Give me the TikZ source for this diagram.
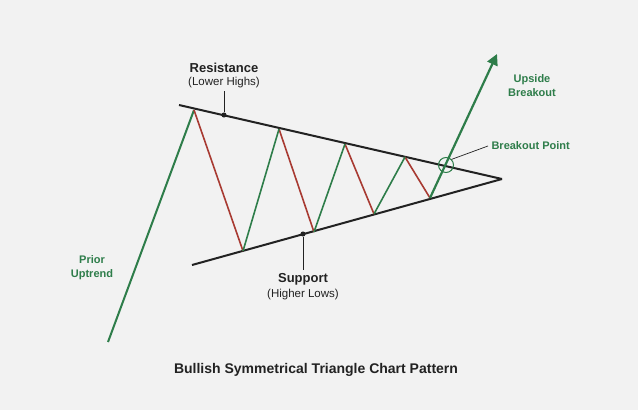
\documentclass[tikz,border=0pt]{standalone}
\usepackage{fontspec}
\setmainfont{Liberation Sans}
\usetikzlibrary{arrows.meta,positioning}
\definecolor{upgreen}{HTML}{2E7D4A}
\definecolor{downred}{HTML}{A83A32}
\definecolor{bgray}{HTML}{F2F2F2}
\definecolor{ink}{HTML}{222222}
\tikzset{
  trend/.style={line width=2pt,ink},
  up/.style={line width=1.6pt,upgreen},
  down/.style={line width=1.6pt,downred},
  lbl/.style={font=\bfseries\fontsize{13}{15}\selectfont,ink},
  sub/.style={font=\fontsize{11.5}{13}\selectfont,ink},
  glbl/.style={font=\bfseries\fontsize{11}{14}\selectfont,upgreen,align=center},
  dot/.style={circle,fill=ink,inner sep=1.8pt},
}
\begin{document}
\begin{tikzpicture}[x=1pt,y=-1pt]
  \fill[bgray] (0,0) rectangle (638,410);
  \useasboundingbox (0,0) rectangle (638,410);

  % pattern points
  \coordinate (s) at (108,342);
  \coordinate (p1) at (194,110);
  \coordinate (l1) at (243,251);
  \coordinate (p2) at (279,129);
  \coordinate (l2) at (314,232);
  \coordinate (p3) at (345,144);
  \coordinate (l3) at (374,214);
  \coordinate (p4) at (405,157);
  \coordinate (l4) at (430,198);
  \coordinate (bp) at (446,165);
  \coordinate (top) at (497,54);
  \coordinate (rA) at (179,105);
  \coordinate (sA) at (192,265);
  \coordinate (apex) at (502,179);

  % trend lines
  \draw[trend] (rA) -- (apex);
  \draw[trend] (sA) -- (apex);

  % zigzag
  \draw[up,line width=2pt] (s) -- (p1);
  \foreach \a/\b in {p1/l1,p2/l2,p3/l3,p4/l4} \draw[down] (\a) -- (\b);
  \foreach \a/\b in {l1/p2,l2/p3,l3/p4} \draw[up] (\a) -- (\b);
  \draw[up,line width=2.2pt,-{Triangle[length=11pt,width=11pt]}] (l4) -- (top);

  % resistance / support markers
  \node[dot] (rdot) at (224,115) {};
  \node[lbl] (res) at (224,68) {Resistance};
  \node[sub,below=-3pt of res] (resn) {(Lower Highs)};
  \draw[ink,line width=1pt] (rdot) -- (resn.south);
  \node[dot] (sdot) at (303,234) {};
  \node[lbl] (sup) at (303,279) {Support};
  \node[sub,below=-3pt of sup] (supn) {(Higher Lows)};
  \draw[ink,line width=1pt] (sdot) -- (sup.north);

  % breakout
  \node[circle,draw=upgreen,line width=1pt,minimum size=15pt,inner sep=0pt] (bc) at (bp) {};
  \node[glbl,anchor=west] (bpl) at (488,146) {Breakout Point};
  \draw[ink,line width=0.7pt] (bc.north east) -- (bpl.west);
  \node[glbl] (ub) at (532,86) {Upside\\Breakout};
  \node[glbl] (pu) at (92,268) {Prior\\Uptrend};

  \node[font=\bfseries\fontsize{14}{16}\selectfont,ink] (title) at (316,370) {Bullish Symmetrical Triangle Chart Pattern};
\end{tikzpicture}
\end{document}
